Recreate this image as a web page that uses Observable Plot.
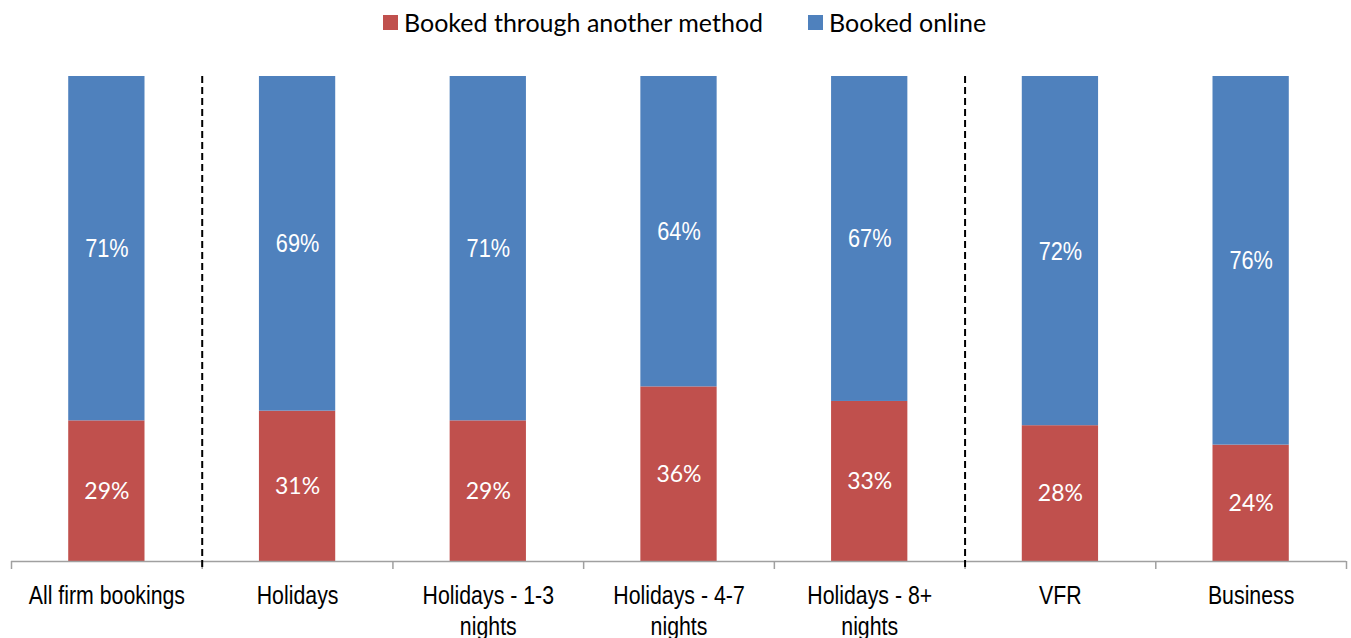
<!DOCTYPE html>
<html><head><meta charset="utf-8">
<script src="https://cdn.jsdelivr.net/npm/d3@7"></script>
<script src="https://cdn.jsdelivr.net/npm/@observablehq/plot@0.6"></script>
<style>
body{margin:0;background:#fff;}
#wrap{position:relative;width:1351px;height:638px;overflow:hidden;}
#chart{position:absolute;top:0;left:0;}
#legend{position:absolute;top:0;left:383px;height:44px;display:flex;align-items:center;font-family:Lato,"Open Sans",sans-serif;font-size:25px;color:#000;white-space:nowrap;}
.item{display:flex;align-items:center;}
.sw{width:15px;height:15px;margin-right:6px;}
</style></head><body>
<div id="wrap"><div id="chart"></div><div id="legend"></div></div>
<script>
const categories = ["All firm bookings","Holidays","Holidays - 1-3 nights","Holidays - 4-7 nights","Holidays - 8+ nights","VFR","Business"];
const tickLabels = ["All firm bookings","Holidays","Holidays - 1-3\nnights","Holidays - 4-7\nnights","Holidays - 8+\nnights","VFR","Business"];
const bookedOther = [29,31,29,36,33,28,24];
const bookedOnline = [71,69,71,64,67,72,76];
const seriesNames = ["Booked through another method","Booked online"];
const seriesColors = ["#C0504D","#4F81BD"];
const dividersBefore = ["Holidays","VFR"];

const W = 1351, H = 638, mL = 11, mR = 5, mT = 76, mB = 77;
const step = (W - mL - mR) / categories.length;
const condense = 0.82;

const rows = [];
categories.forEach((c,i) => {
  rows.push({cat:c, series:seriesNames[0], y1:0, y2:bookedOther[i], v:bookedOther[i]});
  rows.push({cat:c, series:seriesNames[1], y1:bookedOther[i], y2:bookedOther[i]+bookedOnline[i], v:bookedOnline[i]});
});
const arial = '"Liberation Sans",Arial,sans-serif';

const chart = Plot.plot({
  width: W, height: H,
  marginTop: mT, marginBottom: mB, marginLeft: mL, marginRight: mR,
  style: {background: "transparent"},
  x: {domain: categories, paddingInner: 0.6, paddingOuter: 0.3, round: false, axis: null},
  y: {domain: [0,100], axis: null},
  color: {domain: seriesNames, range: seriesColors},
  marks: [
    Plot.barY(rows, {x:"cat", y1:"y1", y2:"y2", fill:"series"}),
    Plot.text(rows.filter(d=>d.series===seriesNames[1]), {x:"cat", y:d=>(d.y1+d.y2)/2, text:d=>d.v+"%", fill:"white", fontSize:26.5, fontFamily:arial}),
    Plot.text(rows.filter(d=>d.series===seriesNames[0]), {x:"cat", y:d=>(d.y1+d.y2)/2, text:d=>d.v+"%", fill:"white", fontSize:23, fontFamily:'Lato,"Open Sans",sans-serif'}),
    Plot.ruleY([0], {stroke:"#a0a0a0", strokeWidth:1.5}),
    Plot.ruleX(categories, {x:d=>d, y1:0, y2:0, insetBottom:-8, dx:-step/2, stroke:"#a0a0a0", strokeWidth:1.5}),
    Plot.ruleX([categories[categories.length-1]], {x:d=>d, y1:0, y2:0, insetBottom:-8, dx:step/2, stroke:"#a0a0a0", strokeWidth:1.5}),
    Plot.ruleX(dividersBefore, {x:d=>d, y1:100, y2:0, insetBottom:-8, dx:-step/2, stroke:"#000", strokeWidth:2, strokeDasharray:"7,4"}),
    Plot.text(categories, {x:d=>d, y:0, text:(d,i)=>tickLabels[i], lineAnchor:"top", dy:21, fontSize:26, lineHeight:1.17, fontFamily:arial, fill:"#000"})
  ]
});
document.getElementById("chart").appendChild(chart);

// horizontally condense the narrow (stretched) Arial-like texts about their anchor
chart.querySelectorAll('g[font-family*="Liberation"] > text').forEach(el => {
  const t = el.getAttribute("transform") || "";
  el.setAttribute("transform", `${t} scale(${condense},1)`);
});

const leg = document.getElementById("legend");
seriesNames.forEach((s,i) => {
  const it = document.createElement("div");
  it.className = "item";
  if (i>0) it.style.marginLeft = "45px";
  const sw = document.createElement("div");
  sw.className = "sw"; sw.style.background = seriesColors[i];
  const t = document.createElement("span");
  t.textContent = s;
  it.appendChild(sw); it.appendChild(t);
  leg.appendChild(it);
});
</script>
</body></html>
